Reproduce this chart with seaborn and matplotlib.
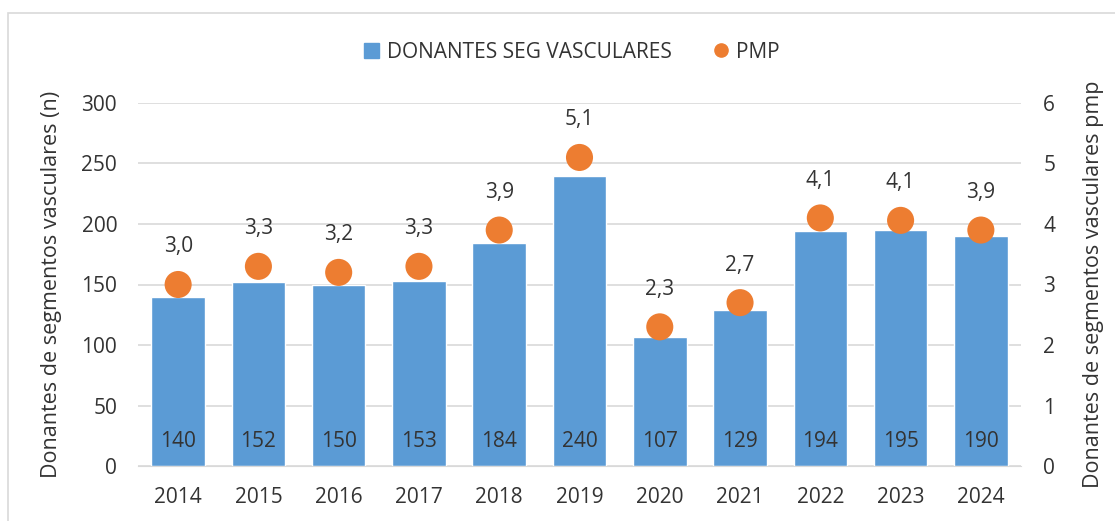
import matplotlib
matplotlib.use("Agg")
import matplotlib.pyplot as plt
import seaborn as sns
import pandas as pd
from matplotlib.patches import Rectangle
from matplotlib.lines import Line2D

years = ['2014', '2015', '2016', '2017', '2018', '2019', '2020', '2021', '2022', '2023', '2024']
donantes = [140, 152, 150, 153, 184, 240, 107, 129, 194, 195, 190]
pmp = [3.0, 3.3, 3.2, 3.3, 3.9, 5.1, 2.3, 2.7, 4.1, 4.06, 3.9]

df = pd.DataFrame({'year': years, 'donantes': donantes, 'pmp': pmp})

sns.set_style('white')
plt.rcParams['font.family'] = ['Open Sans', 'DejaVu Sans']
txt = '#333333'
fs = 15

fig = plt.figure(figsize=(11.15, 5.21), dpi=100)
ax = fig.add_axes([138 / 1115, 55 / 521, 883 / 1115, 363 / 521])

blue = '#5B9BD5'
orange = '#ED7D31'

sns.barplot(data=df, x='year', y='donantes', color=blue, width=0.667,
            saturation=1, ax=ax, zorder=2)
ax.set_ylim(0, 300)
ax.set_xlim(-0.5, 10.5)
ax.set_yticks(range(0, 301, 50))
ax.yaxis.grid(True, color='#d9d9d9', linewidth=1.2, zorder=0)
ax.set_axisbelow(True)
for s in ax.spines.values():
    s.set_visible(False)
ax.spines['bottom'].set_visible(True)
ax.spines['bottom'].set_color('#d9d9d9')
ax.set_xlabel('')
ax.set_ylabel('Donantes de segmentos vasculares (n)', fontsize=15.5, color=txt, labelpad=14)
ax.tick_params(axis='y', labelsize=fs, colors=txt, length=0, pad=15)
ax.tick_params(axis='x', labelsize=fs, colors=txt, length=0, pad=15)

for i, v in enumerate(donantes):
    ax.text(i, 20, str(v), ha='center', va='center', fontsize=fs, color=txt, zorder=4)

ax2 = ax.twinx()
sns.scatterplot(data=df, x='year', y='pmp', color=orange, s=380, edgecolor='none',
                ax=ax2, zorder=5)
ax2.set_ylim(0, 6)
ax2.set_yticks(range(0, 7))
for s in ax2.spines.values():
    s.set_visible(False)
ax2.set_ylabel('Donantes de segmentos vasculares pmp', fontsize=15.5, color=txt, labelpad=20)
ax2.tick_params(axis='y', labelsize=fs, colors=txt, length=0, pad=16)
ax2.set_xlabel('')
for i, v in enumerate(pmp):
    ax2.text(i, v + 0.62, f'{v:.1f}'.replace('.', ','), ha='center', va='center',
             fontsize=fs, color=txt)

handles = [Rectangle((0, 0), 1, 1, color=blue),
           Line2D([], [], marker='o', linestyle='none', color=orange, markersize=9.5)]
fig.legend(handles, ['DONANTES SEG VASCULARES', 'PMP'], loc='center',
           bbox_to_anchor=(0.513, 0.9), ncol=2, frameon=False, fontsize=fs,
           handlelength=0.7, handleheight=0.7, columnspacing=2.0, handletextpad=0.4,
           labelcolor=txt)

fig.patches.append(Rectangle((8 / 1115, -0.1), 1.2, 1 - 13 / 521 + 0.1,
                             transform=fig.transFigure, fill=False,
                             edgecolor='#d9d9d9', linewidth=1.2))

fig.savefig('out.png', dpi=100)
